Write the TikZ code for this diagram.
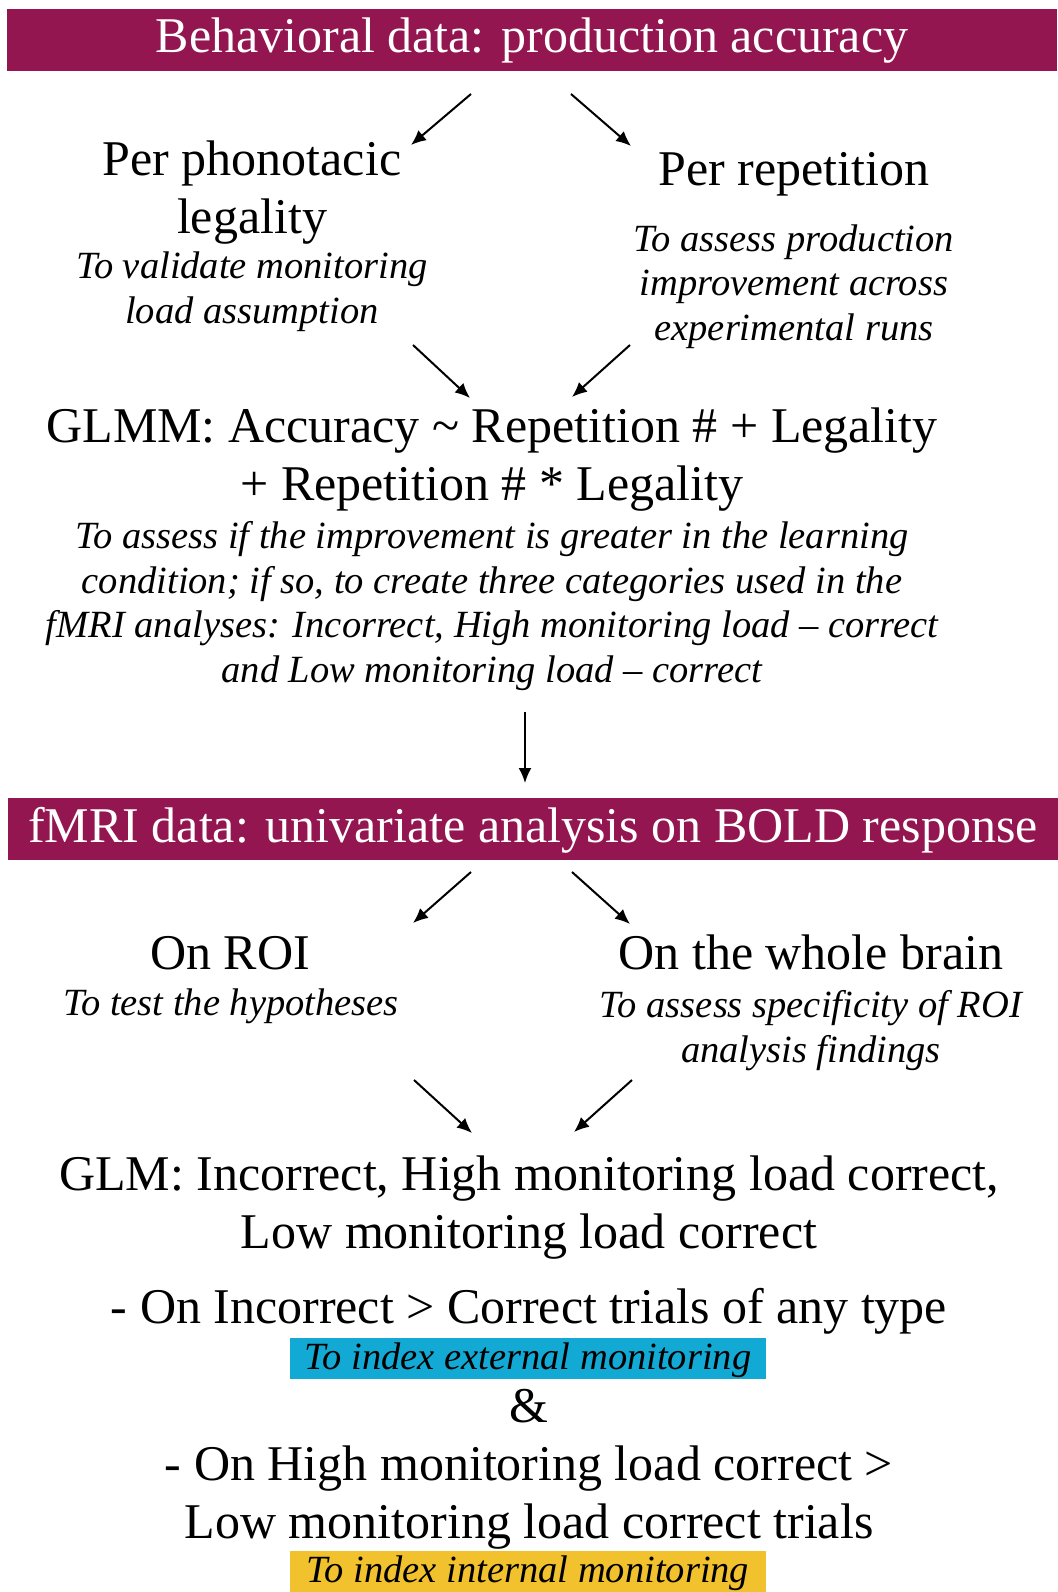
\documentclass[tikz,border=0pt]{standalone}
\usepackage{fontspec}
\setmainfont{Liberation Serif}
\usepackage{tikz}
\usetikzlibrary{arrows.meta}
\usepackage{xcolor}

\definecolor{maroon}{HTML}{931650}
\definecolor{skyblue}{HTML}{12AAD5}
\definecolor{gold}{HTML}{F2C12E}

\newcommand{\bigtext}{\fontsize{50}{57.5}\selectfont}
\newcommand{\notetext}{\fontsize{38.5}{44.5}\selectfont\itshape}

\tikzset{
  banner/.style={fill=maroon, text=white, font=\bigtext, inner sep=0pt,
    minimum width=1050pt, text height=44pt, text depth=18pt, anchor=base},
  title/.style={font=\bigtext, align=center, inner sep=0pt, anchor=base},
  note/.style={font=\notetext, align=center, inner sep=0pt, anchor=base},
  hilite/.style={font=\notetext, inner sep=0pt, minimum width=476pt,
    text height=31pt, text depth=10pt, anchor=base},
  arr/.style={line width=2pt, -{Latex[length=15pt,width=13pt]}}
}

\begin{document}
\begin{tikzpicture}[x=1pt,y=-1pt]
        \useasboundingbox (0,0) rectangle (1057,1592);

        \node[banner](behav) at (532,53) {Behavioral data: production accuracy};

        % base anchor = last line
        \node[title](legal) at (252,233) {Per phonotacic\\legality};
        \node[note](legal-note) at (252,323) {To validate monitoring\\load assumption};
        \node[title](rep) at (794,185) {Per repetition};
        \node[note](rep-note) at (794,340) {To assess production\\improvement across\\experimental runs};

        \node[title](glmm) at (492,500) {GLMM: Accuracy \textasciitilde{} Repetition \# + Legality\\+ Repetition \# * Legality};
        \node[note](glmm-note) at (492,682) {To assess if the improvement is greater in the learning\\condition; if so, to create three categories used in the\\fMRI analyses: Incorrect, High monitoring load \textendash{} correct\\and Low monitoring load \textendash{} correct};

        \node[banner](fmri) at (533,842) {fMRI data: univariate analysis on BOLD response};

        \node[title](roi) at (230,969) {On ROI};
        \node[note](roi-note) at (231,1015) {To test the hypotheses};
        \node[title](brain) at (811,969) {On the whole brain};
        \node[note](brain-note) at (811,1062) {To assess specificity of ROI\\analysis findings};

        \node[title](glm) at (529,1248) {GLM: Incorrect, High monitoring load correct,\\Low monitoring load correct};
        \node[title](ext) at (529,1323) {- On Incorrect > Correct trials of any type};
        \node[hilite, fill=skyblue](ext-box) at (528,1369) {To index external monitoring};
        \node[title](amp) at (529,1422) {\&};
        \node[title](int) at (529,1538) {- On High monitoring load correct >\\Low monitoring load correct trials};
        \node[hilite, fill=gold](int-box) at (528,1582) {To index internal monitoring};

        % arrow ends
        \coordinate (behav-l) at (471,94);
        \coordinate (behav-r) at (571,94);
        \coordinate (legal-in) at (411,145);
        \coordinate (rep-in) at (631,146);
        \coordinate (legal-out) at (413,345);
        \coordinate (rep-out) at (630,345);
        \coordinate (glmm-l) at (470,398);
        \coordinate (glmm-r) at (572,397);
        \coordinate (glmm-out) at (525,712);
        \coordinate (fmri-in) at (525,783);
        \coordinate (fmri-l) at (471,872);
        \coordinate (fmri-r) at (572,872);
        \coordinate (roi-in) at (413,923);
        \coordinate (brain-in) at (630,924);
        \coordinate (roi-out) at (414,1080);
        \coordinate (brain-out) at (632,1080);
        \coordinate (glm-l) at (472,1133);
        \coordinate (glm-r) at (574,1132);

        \draw[arr] (behav-l)--(legal-in);
        \draw[arr] (behav-r)--(rep-in);
        \draw[arr] (legal-out)--(glmm-l);
        \draw[arr] (rep-out)--(glmm-r);
        \draw[arr] (glmm-out)--(fmri-in);
        \draw[arr] (fmri-l)--(roi-in);
        \draw[arr] (fmri-r)--(brain-in);
        \draw[arr] (roi-out)--(glm-l);
        \draw[arr] (brain-out)--(glm-r);
\end{tikzpicture}
\end{document}
